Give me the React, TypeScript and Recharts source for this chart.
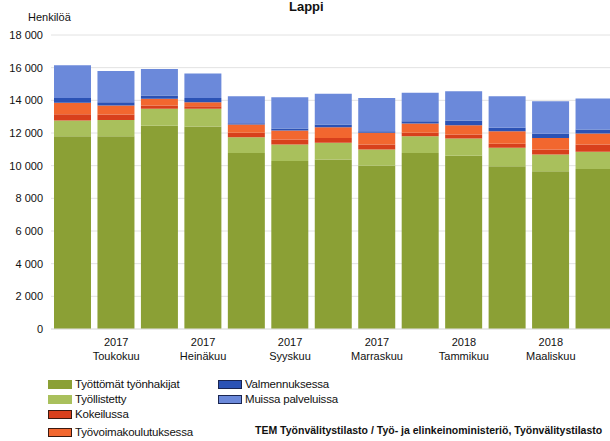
import React from 'react'
import { BarChart, Bar, XAxis, YAxis, CartesianGrid } from 'recharts'

const months = [
  'Huhtikuu', 'Toukokuu', 'Kesäkuu', 'Heinäkuu', 'Elokuu', 'Syyskuu', 'Lokakuu',
  'Marraskuu', 'Joulukuu', 'Tammikuu', 'Helmikuu', 'Maaliskuu', 'Huhtikuu'
]
const years = ['2017', '2017', '2017', '2017', '2017', '2017', '2017', '2017', '2017', '2018', '2018', '2018', '2018']

const tyottomat = [11800, 11800, 12450, 12400, 10780, 10280, 10380, 10000, 10780, 10600, 9970, 9660, 9800]
const tyollistetty = [960, 1000, 1030, 1080, 960, 1020, 1020, 990, 1020, 1060, 1130, 1020, 1050]
const kokeilussa = [390, 330, 200, 160, 270, 300, 300, 310, 210, 250, 240, 310, 450]
const koulutus = [700, 550, 410, 240, 510, 550, 650, 710, 570, 570, 770, 710, 670]
const valmennus = [300, 200, 200, 270, 80, 120, 170, 100, 140, 280, 210, 250, 240]
const muissa = [2000, 1920, 1630, 1490, 1650, 1920, 1890, 2040, 1750, 1800, 1930, 2000, 1900]

const yTicks = [0, 2000, 4000, 6000, 8000, 10000, 12000, 14000, 16000, 18000]

const series = [
  { key: 'tyottomat', name: 'Työttömät työnhakijat', color: '#8ba035', border: '#8ba035' },
  { key: 'tyollistetty', name: 'Työllistetty', color: '#a9c05c', border: '#a9c05c' },
  { key: 'kokeilussa', name: 'Kokeilussa', color: '#d8401c', border: '#3a1a10' },
  { key: 'koulutus', name: 'Työvoimakoulutuksessa', color: '#f2672f', border: '#3a1a10' },
  { key: 'valmennus', name: 'Valmennuksessa', color: '#2b52b5', border: '#1a2550' },
  { key: 'muissa', name: 'Muissa palveluissa', color: '#6b89da', border: '#1a2550' }
]

const data = months.map((m, i) => ({
  month: m,
  year: years[i],
  tyottomat: tyottomat[i],
  tyollistetty: tyollistetty[i],
  kokeilussa: kokeilussa[i],
  koulutus: koulutus[i],
  valmennus: valmennus[i],
  muissa: muissa[i]
}))

const font = '"Liberation Sans", Arial, sans-serif'

const fmt = (v: number) => String(v).replace(/\B(?=(\d{3})+(?!\d))/g, ' ')

const MonthTick = ({ x, y, payload, index }: any) => {
  if (index % 2 === 0) return null
  return (
    <text x={x} y={y} textAnchor="middle" fontSize={11} fill="#111" fontFamily={font}>
      <tspan x={x} dy={9}>{years[index]}</tspan>
      <tspan x={x} dy={14}>{payload.value}</tspan>
    </text>
  )
}

const legendPos = [
  { left: 48, top: 378 },
  { left: 48, top: 393 },
  { left: 48, top: 408 },
  { left: 48, top: 426 },
  { left: 218, top: 378 },
  { left: 218, top: 393 }
]

export default function App() {
  return (
    <div style={{ position: 'absolute', left: 0, top: 0, width: 610, height: 441, overflow: 'hidden', background: '#fff', fontFamily: font }}>
      <div style={{ position: 'absolute', left: 289, top: 0, fontSize: 13, lineHeight: '14px', fontWeight: 'bold', color: '#111' }}>Lappi</div>
      <div style={{ position: 'absolute', left: 28, top: 11, fontSize: 11, color: '#111' }}>Henkilöä</div>
      <BarChart
        width={630}
        height={380}
        data={data}
        margin={{ top: 35, right: 14, left: 6, bottom: 21 }}
        barSize={37}
      >
        <CartesianGrid vertical={false} stroke="#e2e2e2" />
        <XAxis
          dataKey="month"
          axisLine={{ stroke: '#e2e2e2' }}
          tickLine={false}
          interval={0}
          height={30}
          tick={<MonthTick />}
        />
        <YAxis
          domain={[0, 18000]}
          ticks={yTicks}
          width={45}
          axisLine={false}
          tickLine={false}
          tickFormatter={fmt}
          tick={{ fontSize: 11, fill: '#111', fontFamily: font }}
        />
        {series.map((s) => (
          <Bar key={s.key} dataKey={s.key} name={s.name} stackId="a" fill={s.color} isAnimationActive={false} />
        ))}
      </BarChart>
      {series.map((s, i) => (
        <div key={s.key} style={{ position: 'absolute', left: legendPos[i].left, top: legendPos[i].top, display: 'flex', alignItems: 'center', fontSize: 11.5, color: '#111', letterSpacing: -0.2, whiteSpace: 'nowrap' }}>
          <span style={{ display: 'inline-block', width: 22, height: 7, background: s.color, border: `1px solid ${s.border}`, marginRight: 3 }} />
          <span>{s.name}</span>
        </div>
      ))}
      <div style={{ position: 'absolute', left: 255, top: 424, fontSize: 10.5, fontWeight: 'bold', color: '#111', whiteSpace: 'nowrap' }}>
        TEM Työnvälitystilasto / Työ- ja elinkeinoministeriö, Työnvälitystilasto
      </div>
    </div>
  )
}
